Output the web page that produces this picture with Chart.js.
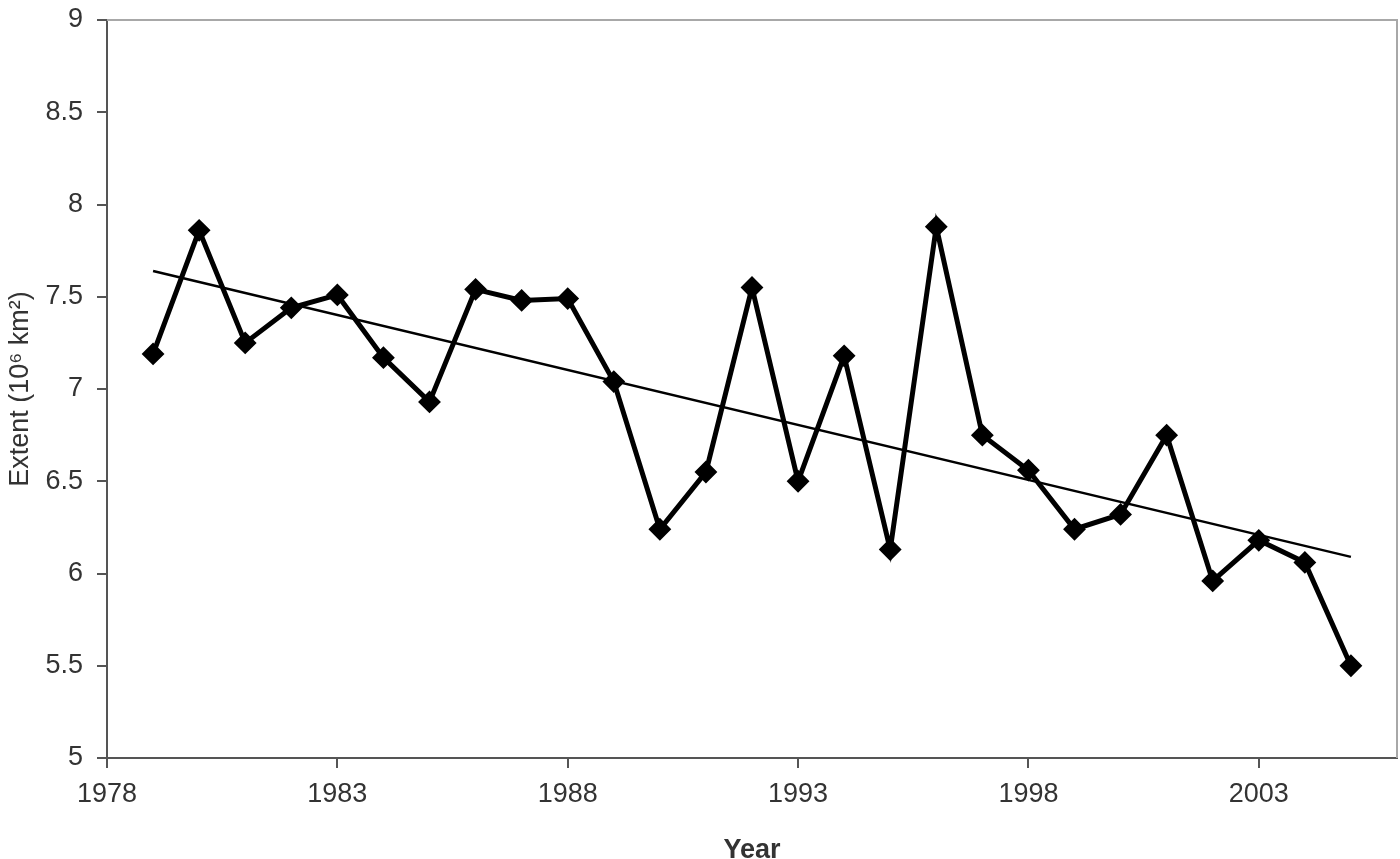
<!DOCTYPE html>
<html>
<head>
<meta charset="utf-8">
<script src="https://cdn.jsdelivr.net/npm/chart.js@4"></script>
<style>
  body { margin: 0; background: #fff; }
  canvas { display: block; }
</style>
</head>
<body>
<canvas id="extentChart" width="1400" height="859"></canvas>
<script>
const years = [1979, 1980, 1981, 1982, 1983, 1984, 1985, 1986, 1987, 1988, 1989, 1990, 1991, 1992,
    1993, 1994, 1995, 1996, 1997, 1998, 1999, 2000, 2001, 2002, 2003, 2004, 2005];
const extent = [7.19, 7.86, 7.25, 7.44, 7.51, 7.17, 6.93, 7.54, 7.48, 7.49, 7.04, 6.24, 6.55, 7.55,
    6.50, 7.18, 6.13, 7.88, 6.75, 6.56, 6.24, 6.32, 6.75, 5.96, 6.18, 6.06, 5.50];
// lineární trend (začátek a konec)
const trendYears = [1979, 2005];
const trendValues = [7.64, 6.09];

const xTicks = [1978, 1983, 1988, 1993, 1998, 2003];
const yTicks = [5, 5.5, 6, 6.5, 7, 7.5, 8, 8.5, 9];

const tickFont = { family: 'Liberation Sans, Arial, sans-serif', size: 27 };

// Rámeček kolem plochy grafu
const frame = {
    id: 'frame',
    beforeDatasetsDraw(chart) {
        const { ctx, chartArea: a } = chart;
        ctx.save();
        ctx.strokeStyle = '#a8a8a8';
        ctx.lineWidth = 2;
        ctx.beginPath();
        ctx.moveTo(a.left, a.top);
        ctx.lineTo(a.right, a.top);
        ctx.lineTo(a.right, a.bottom);
        ctx.stroke();
        ctx.restore();
    }
};

const noPad = s => {
    s.paddingTop = 0;
    s.paddingBottom = 0;
    s.paddingLeft = 0;
    s.paddingRight = 0;
};

const ctx = document.getElementById('extentChart').getContext('2d');
new Chart(ctx, {
    type: 'line',
    data: {
        datasets: [{
            data: years.map((y, i) => ({ x: y, y: extent[i] })),
            borderColor: '#000',
            backgroundColor: '#000',
            borderWidth: 5,
            pointStyle: 'rectRot',
            pointRadius: 10,
            pointBorderWidth: 2,
            tension: 0
        }, {
            data: trendYears.map((y, i) => ({ x: y, y: trendValues[i] })),
            borderColor: '#000',
            borderWidth: 2.5,
            pointRadius: 0,
            tension: 0
        }]
    },
    options: {
        responsive: false,
        animation: false,
        layout: { autoPadding: false, padding: { top: 20, right: 3, left: 0, bottom: 0 } },
        plugins: {
            legend: { display: false },
            tooltip: { enabled: false }
        },
        scales: {
            x: {
                type: 'linear',
                min: 1978,
                max: 2006,
                afterBuildTicks: s => { s.ticks = xTicks.map(v => ({ value: v })); },
                afterFit: s => { s.height = 101; noPad(s); },
                grid: { drawOnChartArea: false, tickLength: 10, color: '#555', lineWidth: 2 },
                border: { color: '#555', width: 2 },
                ticks: {
                    color: '#333',
                    font: tickFont,
                    padding: 10,
                    maxRotation: 0,
                    callback: v => String(v)
                },
                title: {
                    display: true,
                    text: 'Year',
                    color: '#333',
                    font: { family: 'Liberation Sans, Arial, sans-serif', size: 27, weight: 'bold' },
                    padding: { top: 0, bottom: -8 }
                }
            },
            y: {
                min: 5,
                max: 9,
                afterBuildTicks: s => { s.ticks = yTicks.map(v => ({ value: v })); },
                afterFit: s => { s.width = 107; noPad(s); },
                grid: { drawOnChartArea: false, tickLength: 10, color: '#555', lineWidth: 2 },
                border: { color: '#555', width: 2 },
                ticks: {
                    color: '#333',
                    font: tickFont,
                    padding: 14,
                    callback: v => String(v)
                },
                title: {
                    display: true,
                    text: 'Extent (10⁶ km²)',
                    color: '#333',
                    font: { family: 'Liberation Sans, Arial, sans-serif', size: 27 },
                    padding: { top: 4, bottom: 0 }
                }
            }
        }
    },
    plugins: [frame]
});
</script>
</body>
</html>
